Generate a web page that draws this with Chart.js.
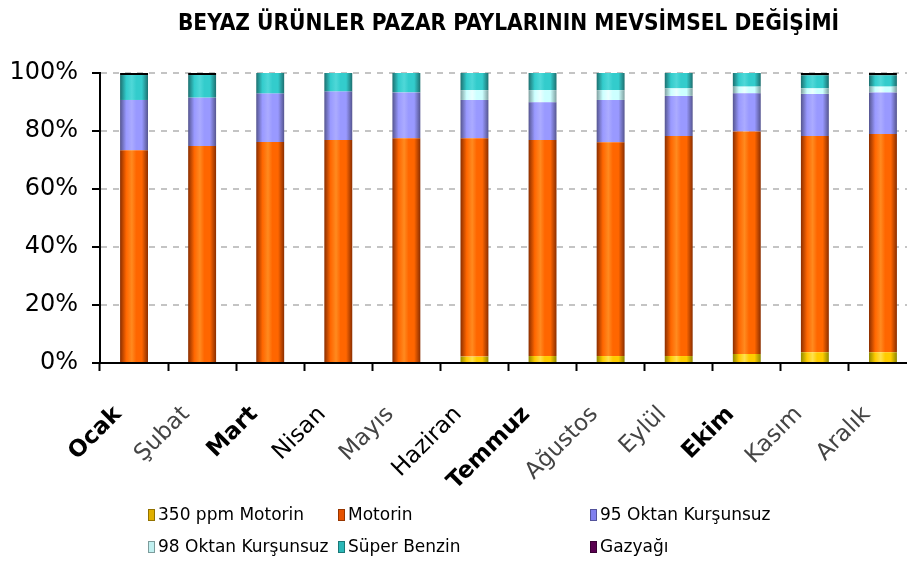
<!DOCTYPE html>
<html>
<head>
<meta charset="utf-8">
<script src="https://cdn.jsdelivr.net/npm/chart.js@4.4.1/dist/chart.umd.min.js"></script>
<style>
    body { margin: 0; overflow: hidden; background: #fff; }
    #wrap { position: relative; width: 920px; height: 567px; }
</style>
</head>
<body>
<div id="wrap"><canvas id="myChart"></canvas></div>
<script>
    'use strict'

    // VERİLER (% pay)
    var aylar = ["Ocak", "Şubat", "Mart", "Nisan", "Mayıs", "Haziran", "Temmuz", "Ağustos", "Eylül", "Ekim", "Kasım", "Aralık"];
    var motorin350 = [0, 0, 0, 0, 0, 2.2, 2.4, 2.4, 2.4, 3.1, 3.7, 3.7];
    var motorin = [73.4, 74.8, 76.2, 76.9, 77.5, 75.3, 74.5, 73.7, 75.9, 76.7, 74.6, 75.3];
    var oktan95 = [17.3, 16.7, 16.7, 16.7, 15.8, 13.2, 13.0, 14.6, 13.8, 13.2, 14.5, 14.3];
    var oktan98 = [0, 0, 0, 0, 0, 3.4, 4.2, 3.4, 2.6, 2.3, 1.9, 2.0];
    var superBenzin = [8.6, 7.8, 7.1, 6.4, 6.7, 5.9, 5.9, 5.9, 5.3, 4.7, 4.5, 3.9];
    var gazyagi = [0.7, 0.7, 0, 0, 0, 0, 0, 0, 0, 0, 0.8, 0.8];
    var yuzdeler = [0, 20, 40, 60, 80, 100];

    // etiket görünümü (orijinaldeki gibi bazıları kalın, bazıları ince)
    var kalinAylar = [0, 2, 6, 9];
    var inceAylar = [1, 4, 7, 8, 10, 11];

    var BAR_ORAN = 0.41;

    // silindir efekti için yatay degrade
    function silindir(koyu, ana, acik) {
        return function (c) {
            var chart = c.chart;
            var x = chart.scales.x;
            if (!x || c.dataIndex === undefined || !chart.chartArea) return ana;
            var merkez = x.getPixelForValue(c.dataIndex);
            var w = (x.width / aylar.length) * BAR_ORAN;
            var g = chart.ctx.createLinearGradient(merkez - w / 2, 0, merkez + w / 2, 0);
            g.addColorStop(0, koyu);
            g.addColorStop(0.22, ana);
            g.addColorStop(0.42, acik);
            g.addColorStop(0.58, ana);
            g.addColorStop(0.78, ana);
            g.addColorStop(1, koyu);
            return g;
        };
    }

    var legendPlugin = {
        id: 'ozelLegend',
        afterDraw: function (chart) {
            var ctx = chart.ctx;
            var sutunX = [148, 338, 590];
            var satirY = [515, 547];
            ctx.save();
            ctx.font = '17px "DejaVu Sans"';
            ctx.textBaseline = 'middle';
            chart.data.datasets.forEach(function (ds, i) {
                var x = sutunX[i % 3];
                var y = satirY[Math.floor(i / 3)];
                ctx.fillStyle = ds.legendRenk;
                ctx.fillRect(x, y - 6, 7, 12);
                ctx.strokeStyle = 'rgba(0,0,0,0.35)';
                ctx.lineWidth = 1;
                ctx.strokeRect(x + 0.5, y - 5.5, 6, 11);
                ctx.fillStyle = '#000';
                ctx.fillText(ds.label, x + 10, y + 1);
            });
            ctx.restore();
        }
    };

    var ctx = document.getElementById('myChart').getContext('2d');

    var chart = new Chart(ctx, {
        type: 'bar',
        data: {
            labels: aylar,
            datasets: [{
                    label: "350 ppm Motorin",
                    data: motorin350,
                    backgroundColor: silindir('#8f8a00', '#ffcc00', '#ffe14d'),
                    legendRenk: '#e0b000'
                },
                {
                    label: "Motorin",
                    data: motorin,
                    backgroundColor: silindir('#8a2e00', '#ff6600', '#ff8a1f'),
                    legendRenk: '#e65200'
                },
                {
                    label: "95 Oktan Kurşunsuz",
                    data: oktan95,
                    backgroundColor: silindir('#55558f', '#9999ff', '#ababff'),
                    legendRenk: '#8080ee'
                },
                {
                    label: "98 Oktan Kurşunsuz",
                    data: oktan98,
                    backgroundColor: silindir('#7f9f9f', '#ccffff', '#eaffff'),
                    legendRenk: '#c0f0f0'
                },
                {
                    label: "Süper Benzin",
                    data: superBenzin,
                    backgroundColor: silindir('#1d7070', '#33cccc', '#4fd8d8'),
                    legendRenk: '#2ab8b8'
                },
                {
                    label: "Gazyağı",
                    data: gazyagi,
                    backgroundColor: '#000000',
                    legendRenk: '#5a0050'
                }
            ]
        },
        options: {
            responsive: true,
            maintainAspectRatio: false,
            animation: false,
            layout: {
                padding: { left: 0, right: 3, top: 0, bottom: 0 }
            },
            datasets: {
                bar: {
                    barPercentage: BAR_ORAN,
                    categoryPercentage: 1,
                    borderWidth: 0
                }
            },
            plugins: {
                legend: { display: false },
                tooltip: { enabled: false },
                title: {
                    display: true,
                    text: "BEYAZ ÜRÜNLER PAZAR PAYLARININ MEVSİMSEL DEĞİŞİMİ",
                    color: '#000',
                    fullSize: false,
                    font: { family: '"DejaVu Sans Condensed", "Liberation Sans Narrow", sans-serif', size: 22.5, weight: 'bold', lineHeight: 1 },
                    padding: { top: 13, bottom: 37.5 }
                }
            },
            scales: {
                x: {
                    stacked: true,
                    offset: true,
                    grid: {
                        display: true,
                        drawOnChartArea: false,
                        offset: true,
                        tickLength: 8,
                        tickColor: '#000',
                        tickWidth: 2
                    },
                    border: { display: true, color: '#000', width: 2 },
                    ticks: {
                        autoSkip: false,
                        minRotation: 45,
                        maxRotation: 45,
                        padding: 30,
                        labelOffset: -16,
                        color: function (c) {
                            return inceAylar.indexOf(c.index) >= 0 ? '#444' : '#000';
                        },
                        font: function (c) {
                            return {
                                family: '"DejaVu Sans", sans-serif',
                                size: 23,
                                weight: kalinAylar.indexOf(c.index) >= 0 ? 'bold' : 'normal'
                            };
                        }
                    },
                    afterFit: function (scale) {
                        scale.height = 204;
                        scale.paddingLeft = 0;
                        scale.paddingRight = 0;
                    }
                },
                y: {
                    stacked: true,
                    min: 0,
                    max: 100,
                    afterBuildTicks: function (scale) {
                        scale.ticks = yuzdeler.map(function (v) { return { value: v }; });
                    },
                    grid: {
                        color: function (c) {
                            return c.tick && c.tick.value === 0 ? 'rgba(0,0,0,0)' : '#c4c4c4';
                        },
                        lineWidth: 2,
                        tickLength: 8,
                        tickColor: '#000',
                        tickWidth: 2,
                        tickBorderDash: []
                    },
                    border: { display: true, color: '#000', width: 2, dash: [6, 6] },
                    ticks: {
                        padding: 14,
                        color: '#000',
                        font: { family: '"DejaVu Sans", sans-serif', size: 24 },
                        callback: function (v) { return v + '%'; }
                    },
                    afterFit: function (scale) {
                        scale.width = 100;
                    }
                }
            }
        },
        plugins: [legendPlugin]
    });
</script>
</body>
</html>
